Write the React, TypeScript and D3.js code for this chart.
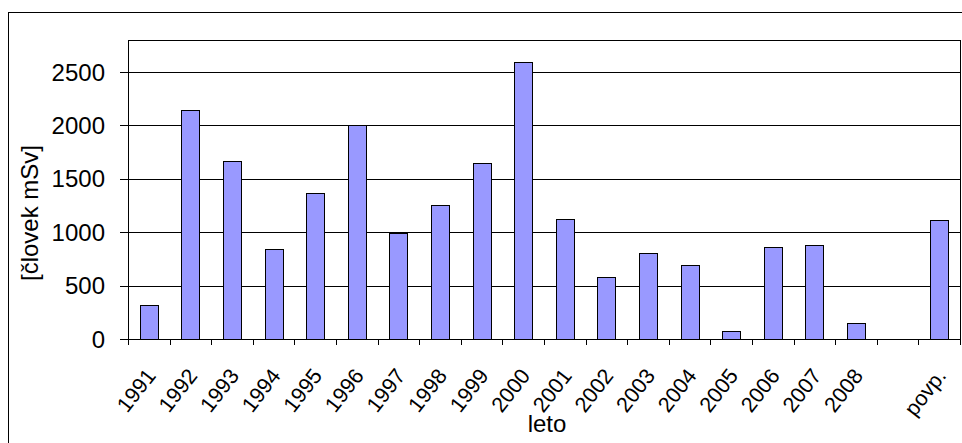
import React from "react";
import * as d3 from "d3";

// categories (one empty slot before the average)
const categories = [
  "1991", "1992", "1993", "1994", "1995", "1996", "1997", "1998", "1999", "2000",
  "2001", "2002", "2003", "2004", "2005", "2006", "2007", "2008", "", "povp.",
];
const values: (number | null)[] = [
  318, 2141, 1670, 843, 1370, 2007, 995, 1258, 1651, 2591,
  1127, 583, 808, 696, 75, 864, 883, 153, null, 1111,
];
const yTicks = [0, 500, 1000, 1500, 2000, 2500];

const W = 962;
const H = 443;
const plot = { left: 128, top: 40, right: 960, bottom: 339 };
const font = "'Liberation Sans', Arial, sans-serif";

export default function App() {
  const x = d3
    .scaleBand()
    .domain(categories.map((c, i) => i + ""))
    .range([plot.left, plot.right])
    .paddingInner(0.565)
    .paddingOuter(0.2825);
  const step = (plot.right - plot.left) / categories.length;
  const y = d3.scaleLinear().domain([0, 2800]).range([plot.bottom, plot.top]);

  return (
    <div style={{ position: "fixed", left: 0, top: 0 }}>
      <svg width={W} height={H} style={{ display: "block" }}>
        <rect x={0} y={0} width={W} height={H} fill="#fff" />
        <rect x={8.5} y={12.5} width={W} height={H} fill="none" stroke="#000" strokeWidth={1} />
        {/* gridlines */}
        {yTicks.slice(1).map((t) => (
          <line key={t} x1={plot.left} x2={plot.right} y1={Math.round(y(t)) + 0.5} y2={Math.round(y(t)) + 0.5} stroke="#000" strokeWidth={1} />
        ))}
        {/* plot border */}
        <rect x={plot.left + 0.5} y={plot.top + 0.5} width={plot.right - plot.left} height={plot.bottom - plot.top} fill="none" stroke="#000" />
        {/* bars */}
        {values.map((v, i) =>
          v == null ? null : (
            <rect
              key={i}
              x={Math.round(x(i + "")!) + 0.5}
              y={Math.round(y(v)) + 0.5}
              width={Math.round(x.bandwidth())}
              height={Math.round(y(0)) - Math.round(y(v))}
              fill="#9999FF"
              stroke="#000"
              strokeWidth={1}
            />
          )
        )}
        {/* axes */}
        <line x1={plot.left} x2={plot.right} y1={plot.bottom + 0.5} y2={plot.bottom + 0.5} stroke="#000" />
        {d3.range(categories.length + 1).map((i) => {
          const xx = Math.round(plot.left + i * step) + 0.5;
          return <line key={i} x1={xx} x2={xx} y1={plot.bottom} y2={plot.bottom + 6} stroke="#000" />;
        })}
        {yTicks.map((t) => (
          <g key={t}>
            <line x1={plot.left - 8} x2={plot.left} y1={Math.round(y(t)) + 0.5} y2={Math.round(y(t)) + 0.5} stroke="#000" />
            <text x={plot.left - 23} y={y(t)} dy="0.36em" textAnchor="end" fontFamily={font} fontSize={24} fill="#000">
              {t}
            </text>
          </g>
        ))}
        {categories.map((c, i) => {
          const cx = x(i + "")! + x.bandwidth() / 2;
          return (
            <text
              key={i}
              transform={`translate(${cx + 8},${plot.bottom + 37}) rotate(-52)`}
              textAnchor="end"
              fontFamily={font}
              fontSize={21.5}
              fill="#000"
            >
              {c}
            </text>
          );
        })}
        <text x={(plot.left + plot.right) / 2 + 3} y={432} textAnchor="middle" fontFamily={font} fontSize={24} fill="#000">
          leto
        </text>
        <text transform={`translate(38,213) rotate(-90)`} textAnchor="middle" fontFamily={font} fontSize={24} fill="#000">
          [človek mSv]
        </text>
      </svg>
    </div>
  );
}
